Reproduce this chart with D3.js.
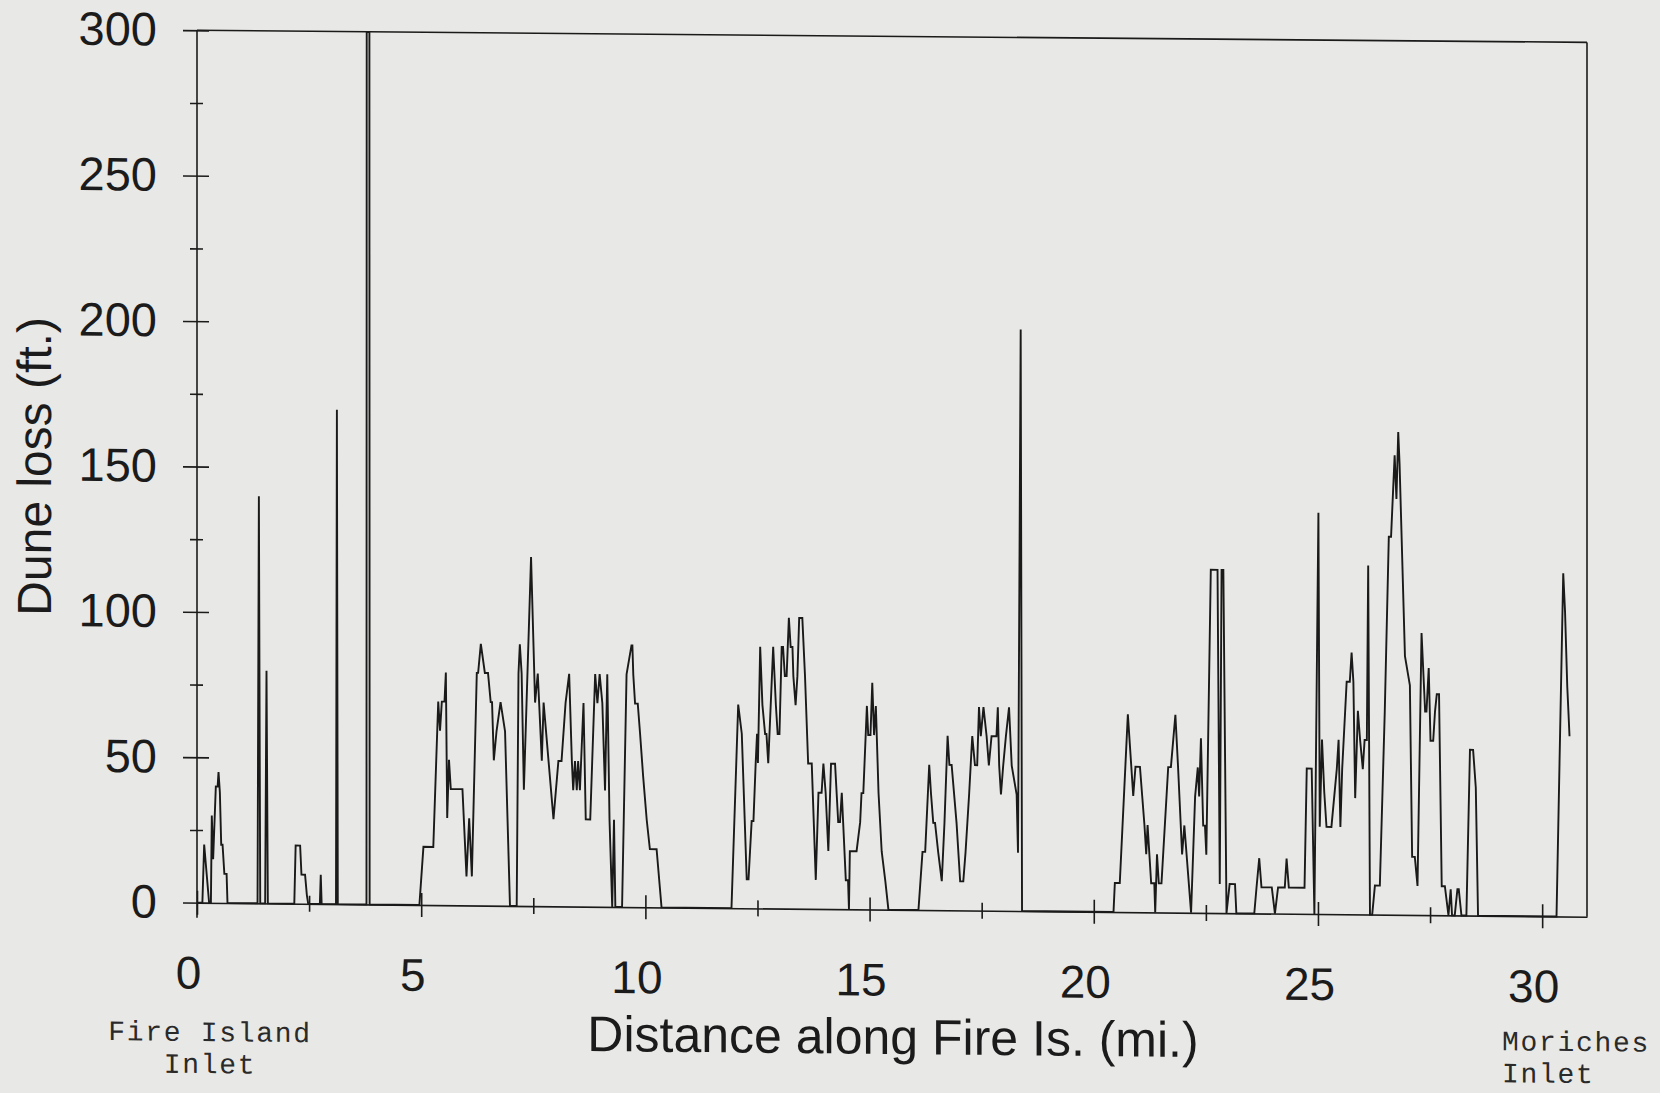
<!DOCTYPE html>
<html>
<head>
<meta charset="utf-8">
<script src="https://cdn.jsdelivr.net/npm/d3@7"></script>
<style>
  body { margin: 0; background: #e8e8e6; }
  svg { display: block; }
</style>
</head>
<body>
<svg id="chart" width="1660" height="1093"></svg>
<script>
// distance along Fire Island (mi) and dune loss (ft), one row per stretch
const miles = [
  0, 0.12, 0.16, 0.27, 0.31, 0.33, 0.36, 0.42, 0.46, 0.48, 0.51, 0.54, 0.57, 0.61, 0.66, 0.68,
  1.35, 1.38, 1.41, 1.52, 1.55, 1.58, 2.17, 2.20, 2.30, 2.33, 2.41, 2.45, 2.48, 2.74, 2.76, 2.78,
  3.10, 3.12, 3.14, 3.78, 3.785, 3.845, 3.85, 4.96,
  5.05, 5.27, 5.38, 5.42, 5.46, 5.52, 5.55, 5.58, 5.62, 5.66, 5.92, 6.01, 6.07, 6.13, 6.24,
  6.27, 6.33, 6.42, 6.49, 6.55, 6.58, 6.62, 6.68, 6.77, 6.87, 6.98,
  7.13, 7.17, 7.20, 7.24, 7.29, 7.45, 7.54, 7.60, 7.63, 7.69, 7.73, 7.84, 7.95, 8.06, 8.13,
  8.22, 8.30, 8.36, 8.39, 8.43, 8.47, 8.50, 8.54, 8.62, 8.67, 8.77, 8.88, 8.93, 8.98, 9.04,
  9.10, 9.15, 9.20, 9.26, 9.30, 9.33,
  9.48, 9.58, 9.69, 9.71, 9.73, 9.77, 9.83, 9.88, 9.95, 10.03, 10.10, 10.25, 10.36,
  11.92, 12.07, 12.15, 12.26, 12.30, 12.37, 12.41, 12.46, 12.49, 12.51, 12.56, 12.61, 12.67, 12.70, 12.74,
  12.85, 12.91, 12.95, 12.99, 13.04, 13.07, 13.11, 13.15, 13.20, 13.24, 13.28, 13.30, 13.35, 13.39, 13.43,
  13.50, 13.56, 13.63, 13.71, 13.80, 13.86, 13.93, 13.97, 14.02, 14.08, 14.14, 14.23, 14.30, 14.34, 14.38,
  14.41, 14.47, 14.52, 14.54,
  14.56, 14.71, 14.79, 14.82, 14.86, 14.94, 14.97, 15.02, 15.06, 15.10, 15.14, 15.20, 15.27, 15.35, 15.42,
  16.09, 16.18, 16.24, 16.33, 16.37, 16.42, 16.46, 16.53, 16.61, 16.67, 16.74, 16.78, 16.83, 16.94, 17.02,
  17.09, 17.14, 17.22, 17.29, 17.35, 17.40, 17.44, 17.48, 17.54, 17.61, 17.66, 17.72, 17.83, 17.86, 17.89,
  17.93, 17.98, 18.04, 18.11, 18.17, 18.28, 18.31, 18.37, 18.40,
  20.44, 20.47, 20.58, 20.76, 20.88, 20.93, 21.03, 21.08, 21.13, 21.17, 21.20, 21.28, 21.35, 21.37, 21.41,
  21.45, 21.51, 21.66, 21.72, 21.82, 21.88, 21.94, 21.97, 22.02, 22.17, 22.26, 22.32, 22.35, 22.39, 22.44,
  22.48, 22.51, 22.61, 22.76, 22.81, 22.85, 22.89, 22.96, 23.03, 23.15, 23.18,
  23.58, 23.63, 23.69, 23.74, 23.97, 24.04, 24.11, 24.26, 24.30, 24.35, 24.70, 24.75, 24.86, 24.92,
  25.01, 25.04, 25.09, 25.14, 25.19, 25.30, 25.42, 25.46, 25.50, 25.54, 25.64, 25.71, 25.75, 25.79, 25.83,
  25.89, 25.94, 26.00, 26.04, 26.09, 26.12, 26.16, 26.21, 26.27, 26.38, 26.49, 26.58, 26.63, 26.71, 26.75,
  26.79, 26.82, 26.94, 27.05, 27.10, 27.16, 27.22, 27.31, 27.39, 27.42, 27.47, 27.51, 27.57, 27.61, 27.65,
  27.70, 27.76, 27.83, 27.91, 27.96, 27.99, 28.05, 28.11, 28.14, 28.20, 28.31, 28.39, 28.46, 28.52, 28.57,
  30.32, 30.47, 30.51, 30.56, 30.59, 30.61
];
const lossFt = [
  0, 0, 20, 0, 0, 30, 15, 40, 40, 45, 38, 20, 20, 10, 10, 0,
  0, 140, 0, 0, 80, 0, 0, 20, 20, 10, 10, 3, 0, 0, 10, 0,
  0, 170, 0, 0, 300, 300, 0, 0,
  20, 20, 70, 60, 70, 70, 80, 30, 50, 40, 40, 10, 30, 10, 80,
  80, 90, 80, 80, 70, 70, 50, 60, 70, 60, 0,
  0, 80, 90, 80, 40, 120, 70, 80, 70, 50, 70, 50, 30, 50, 50,
  70, 80, 50, 40, 50, 40, 50, 40, 70, 30, 30, 80, 70, 80, 70,
  40, 80, 30, 0, 30, 0,
  0, 80, 90, 90, 80, 70, 70, 60, 45, 30, 20, 20, 0,
  0, 70, 60, 10, 10, 30, 30, 50, 60, 50, 90, 70, 60, 60, 50,
  90, 70, 60, 60, 90, 90, 80, 80, 100, 90, 90, 80, 70, 80, 100,
  100, 80, 50, 50, 10, 40, 40, 50, 40, 20, 50, 50, 30, 30, 40,
  30, 10, 10, 0,
  20, 20, 30, 40, 40, 70, 60, 60, 78, 60, 70, 40, 20, 10, 0,
  0, 20, 20, 50, 40, 30, 30, 20, 10, 30, 60, 50, 50, 30, 10,
  10, 20, 40, 60, 50, 50, 70, 60, 70, 60, 50, 60, 60, 70, 50,
  40, 50, 60, 70, 50, 40, 20, 200, 0,
  0, 10, 10, 68, 40, 50, 50, 40, 30, 20, 30, 10, 10, 0, 20,
  10, 10, 50, 50, 68, 50, 30, 20, 30, 0, 40, 50, 40, 60, 30,
  30, 20, 118, 118, 10, 118, 118, 0, 10, 10, 0,
  0, 9, 19, 9, 9, 0, 9, 9, 19, 9, 9, 50, 50, 0,
  138, 30, 60, 42, 30, 30, 50, 60, 30, 50, 80, 80, 90, 80, 40,
  70, 60, 50, 60, 60, 120, 0, 0, 10, 10, 70, 130, 130, 158, 143,
  166, 155, 89, 79, 20, 20, 10, 97, 70, 70, 85, 60, 60, 70, 76,
  76, 10, 10, 0, 9, 0, 0, 9, 9, 0, 0, 57, 57, 44, 0,
  0, 118, 105, 79, 69, 62
];
const yTicks = d3.range(0, 301, 25);
const yLabels = [0, 50, 100, 150, 200, 250, 300];
const xTicks = d3.range(0, 30.1, 2.5);
const xLabels = [0, 5, 10, 15, 20, 25, 30];

const width = 1660, height = 1093;
const ink = "#1b1b1b";
const sans = '"Liberation Sans", Arial, Helvetica, sans-serif';
const mono = '"Liberation Mono", "Courier New", monospace';

const points = miles.map((m, i) => ({ mi: m, ft: lossFt[i] }));

const x = d3.scaleLinear().domain([0, 31]).range([197, 1587]);
const y = d3.scaleLinear().domain([0, 300]).range([902.7, 30.3]);

const svg = d3.select("#chart");
svg.append("rect").attr("width", width).attr("height", height).attr("fill", "#e8e8e6");

// the scan is a little skewed, baseline drops toward the right
const g = svg.append("g")
  .attr("transform", `translate(${x(0)},0) skewY(0.58) translate(${-x(0)},0)`);

// y axis
const yAxis = g.append("g")
  .attr("transform", `translate(${x(0)},0)`)
  .call(d3.axisLeft(y).tickValues(yTicks).tickSizeOuter(0)
    .tickFormat(d => yLabels.includes(d) ? d : ""));
yAxis.select(".domain").remove();
yAxis.selectAll(".tick line")
  .attr("x1", d => d % 50 === 0 ? 12 : 6)
  .attr("x2", d => d % 50 === 0 ? -14 : -7)
  .attr("stroke", ink).attr("stroke-width", 1.6);
yAxis.selectAll(".tick text")
  .attr("x", -40)
  .attr("font-size", 47).attr("font-family", sans).attr("fill", ink);

g.append("line")
  .attr("x1", x(0)).attr("x2", x(0))
  .attr("y1", y(300)).attr("y2", y(0) + 15)
  .attr("stroke", ink).attr("stroke-width", 1.6);

// x axis
const xAxis = g.append("g")
  .attr("transform", `translate(0,${y(0)})`)
  .call(d3.axisBottom(x).tickValues(xTicks).tickSizeOuter(0)
    .tickFormat(d => xLabels.includes(d) ? d : ""));
xAxis.select(".domain").attr("stroke", ink).attr("stroke-width", 1.6);
xAxis.selectAll(".tick line")
  .attr("y1", d => d % 5 === 0 ? -12 : -8)
  .attr("y2", d => d % 5 === 0 ? 12 : 8)
  .attr("stroke", ink).attr("stroke-width", 1.6);
xAxis.selectAll(".tick text")
  .attr("y", 86).attr("dy", 0).attr("x", -9)
  .attr("font-size", 46).attr("font-family", sans).attr("fill", ink);

// frame top and right
g.append("line")
  .attr("x1", x(0)).attr("x2", x(31))
  .attr("y1", y(300)).attr("y2", y(300) - 2)
  .attr("stroke", ink).attr("stroke-width", 1.6);
g.append("line")
  .attr("x1", x(31)).attr("x2", x(31))
  .attr("y1", y(300) - 2).attr("y2", y(0))
  .attr("stroke", ink).attr("stroke-width", 1.6);

// data line
const line = d3.line().x(d => x(d.mi)).y(d => y(d.ft));
g.append("path")
  .datum(points)
  .attr("d", line)
  .attr("fill", "none")
  .attr("stroke", "#1a1a1a")
  .attr("stroke-width", 1.9);

// titles
g.append("text")
  .attr("transform", "translate(51,468) rotate(-90)")
  .attr("text-anchor", "middle")
  .attr("font-size", 48).attr("font-family", sans).attr("fill", ink)
  .text("Dune loss (ft.)");

g.append("text")
  .attr("x", 893).attr("y", 1047)
  .attr("text-anchor", "middle")
  .attr("font-size", 50).attr("font-family", sans).attr("fill", ink)
  .text("Distance along Fire Is. (mi.)");

// end labels
const endLabels = [
  { lines: ["Fire Island", "Inlet"], x: 210, y: 1041, anchor: "middle" },
  { lines: ["Moriches", "Inlet"], x: 1502, y: 1037, anchor: "start" }
];
endLabels.forEach(l => {
  l.lines.forEach((t, i) => {
    g.append("text")
      .attr("x", l.x).attr("y", l.y + i * 32)
      .attr("text-anchor", l.anchor)
      .attr("font-size", 28).attr("letter-spacing", 1.7)
      .attr("font-family", mono).attr("fill", "#2a2a2a")
      .text(t);
  });
});
</script>
</body>
</html>
